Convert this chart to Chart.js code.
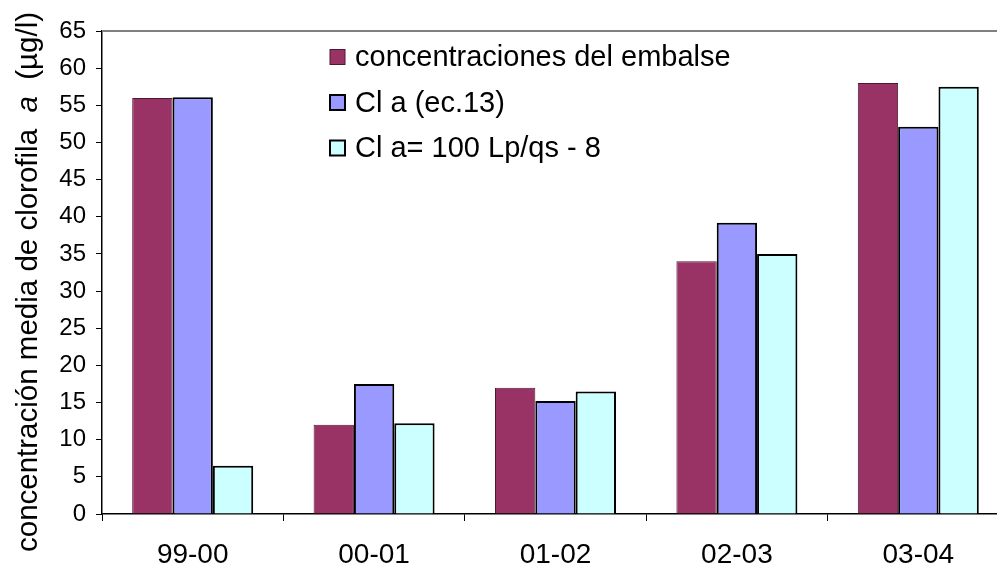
<!DOCTYPE html>
<html>
<head>
<meta charset="utf-8">
<script src="https://cdn.jsdelivr.net/npm/chart.js@4"></script>
<style>
  html, body { margin: 0; padding: 0; background: #fff; overflow: hidden; }
  #wrap { width: 1040px; height: 567px; }
</style>
</head>
<body>
<div id="wrap"><canvas id="chart" width="1040" height="567"></canvas></div>
<script>
// data
const categories = ["99-00", "00-01", "01-02", "02-03", "03-04"];
const embalse = [56.0, 12.0, 17.0, 34.0, 58.0];
const ecuacion13 = [56.1, 17.5, 15.2, 39.2, 52.1];
const formulaLp = [6.5, 12.2, 16.5, 35.0, 57.5];
const seriesNames = ["concentraciones del embalse", "Cl a (ec.13)", "Cl a= 100 Lp/qs - 8"];
const yTicks = [0, 5, 10, 15, 20, 25, 30, 35, 40, 45, 50, 55, 60, 65];

const FONT = "'Liberation Sans', Arial, sans-serif";

// legend drawn inside the plot, top middle
const legendPlugin = {
  id: "insideLegend",
  afterDraw(chart) {
    const ctx = chart.ctx;
    ctx.save();
    ctx.font = "29px " + FONT;
    ctx.textBaseline = "middle";
    chart.data.datasets.forEach((ds, i) => {
      const y = 57 + i * 45.5;
      ctx.fillStyle = ds.backgroundColor;
      ctx.fillRect(330, y - 7.5, 15, 15);
      ctx.lineWidth = ds.borderWidth;
      ctx.strokeStyle = ds.borderColor;
      ctx.strokeRect(330, y - 7.5, 15, 15);
      ctx.fillStyle = "#000";
      ctx.fillText(ds.label, 355, y + 1);
    });
    ctx.restore();
  }
};

// top border of the plot + y axis title with italic "a"
const framePlugin = {
  id: "frame",
  beforeDatasetsDraw(chart) {
    const { ctx, chartArea } = chart;
    ctx.save();
    ctx.strokeStyle = "#808080";
    ctx.lineWidth = 2;
    ctx.beginPath();
    ctx.moveTo(chartArea.left, chartArea.top);
    ctx.lineTo(chartArea.right, chartArea.top);
    ctx.stroke();
    ctx.restore();
  },
  afterDraw(chart) {
    const ctx = chart.ctx;
    const parts = [
      ["concentración media de clorofila  ", "normal"],
      ["a", "italic"],
      ["  (µg/l)", "normal"]
    ];
    ctx.save();
    ctx.translate(37, 282);
    ctx.rotate(-Math.PI / 2);
    ctx.fillStyle = "#000";
    ctx.textBaseline = "alphabetic";
    let total = 0;
    parts.forEach(p => {
      ctx.font = p[1] + " 29.5px " + FONT;
      total += ctx.measureText(p[0]).width;
    });
    let x = -total / 2;
    parts.forEach(p => {
      ctx.font = p[1] + " 29.5px " + FONT;
      ctx.fillText(p[0], x, 0);
      x += ctx.measureText(p[0]).width;
    });
    ctx.restore();
  }
};

new Chart(document.getElementById("chart"), {
  type: "bar",
  data: {
    labels: categories,
    datasets: [
      { label: seriesNames[0], data: embalse, backgroundColor: "#993366", borderColor: "#4a1a33", borderWidth: 1 },
      { label: seriesNames[1], data: ecuacion13, backgroundColor: "#9999FF", borderColor: "#000", borderWidth: 2 },
      { label: seriesNames[2], data: formulaLp, backgroundColor: "#CCFFFF", borderColor: "#000", borderWidth: 2 }
    ]
  },
  options: {
    responsive: false,
    animation: false,
    layout: { padding: { top: 31, right: 31, left: 0, bottom: 0 } },
    datasets: { bar: { categoryPercentage: 0.667, barPercentage: 1.0 } },
    plugins: { legend: { display: false }, tooltip: { enabled: false } },
    scales: {
      x: {
        grid: { display: true, drawOnChartArea: false, offset: true, tickLength: 7, color: "#000", lineWidth: 1 },
        border: { color: "#000", width: 1.5 },
        ticks: { color: "#000", font: { family: FONT, size: 28 }, padding: 17 },
        afterFit(scale) { scale.height = 53; }
      },
      y: {
        min: 0,
        max: 65,
        afterBuildTicks(scale) { scale.ticks = yTicks.map(v => ({ value: v })); },
        grid: { display: true, drawOnChartArea: false, tickLength: 6, color: "#000", lineWidth: 1 },
        border: { color: "#000", width: 1.5 },
        ticks: { color: "#000", font: { family: FONT, size: 24 }, padding: 10 },
        afterFit(scale) { scale.width = 102; }
      }
    }
  },
  plugins: [legendPlugin, framePlugin]
});
</script>
</body>
</html>
